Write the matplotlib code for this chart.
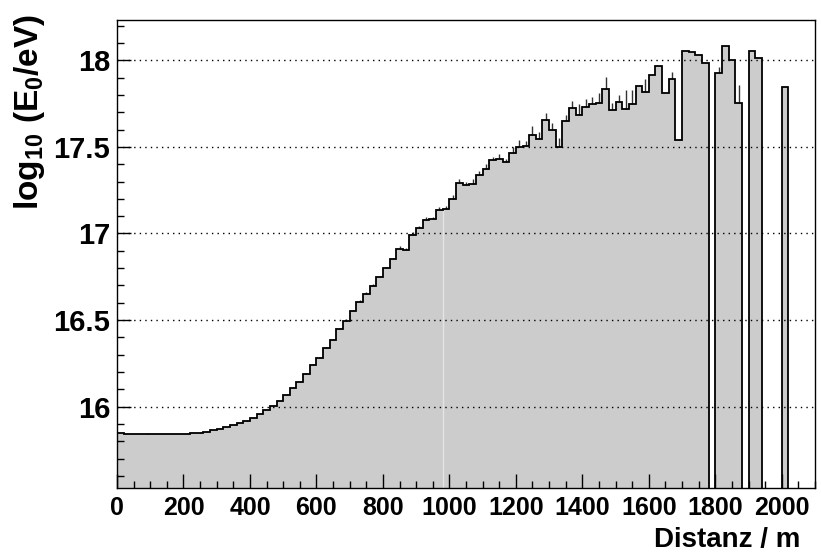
import numpy as np
import matplotlib
matplotlib.use("Agg")
import matplotlib.pyplot as plt
from matplotlib.ticker import MultipleLocator, FuncFormatter

# Histogram binning (distance to shower core, 20 m bins)
bin_width = 20
x_min, x_max = 0, 2100
y_min, y_max = 15.53, 18.233

# Mean log10(E0/eV) per distance bin (0 = empty bin)
energy = [
    15.846, 15.842, 15.840, 15.840, 15.844, 15.840, 15.840, 15.840, 15.841, 15.842,
    15.843, 15.846, 15.850, 15.856, 15.863, 15.871, 15.880, 15.891, 15.904, 15.918,
    15.934, 15.955, 15.978, 16.004, 16.031, 16.067, 16.110, 16.141, 16.190, 16.239,
    16.280, 16.339, 16.387, 16.449, 16.497, 16.551, 16.606, 16.653, 16.699, 16.747,
    16.798, 16.850, 16.912, 16.904, 16.994, 17.032, 17.077, 17.085, 17.135, 17.143,
    17.201, 17.293, 17.281, 17.285, 17.335, 17.374, 17.422, 17.430, 17.413, 17.462,
    17.501, 17.506, 17.569, 17.543, 17.655, 17.595, 17.501, 17.649, 17.726, 17.683,
    17.732, 17.748, 17.751, 17.837, 17.711, 17.760, 17.717, 17.746, 17.850, 17.817,
    17.917, 17.965, 17.813, 17.894, 17.538, 18.054, 18.048, 18.029, 17.987, 0.0,
    17.929, 18.083, 18.000, 17.751, 0.0, 18.056, 18.013, 0.0, 0.0, 0.0,
    17.844, 0.0, 0.0, 0.0, 0.0,
]

# Statistical uncertainty of each bin mean
energy_err = [
    0.002, 0.002, 0.002, 0.002, 0.002, 0.002, 0.002, 0.002, 0.002, 0.002,
    0.002, 0.002, 0.002, 0.003, 0.003, 0.003, 0.003, 0.003, 0.003, 0.003,
    0.004, 0.004, 0.004, 0.004, 0.004, 0.005, 0.005, 0.005, 0.005, 0.006,
    0.006, 0.006, 0.006, 0.007, 0.007, 0.007, 0.008, 0.008, 0.008, 0.009,
    0.009, 0.010, 0.015, 0.012, 0.015, 0.014, 0.019, 0.012, 0.019, 0.015,
    0.019, 0.023, 0.015, 0.031, 0.027, 0.025, 0.021, 0.031, 0.020, 0.037,
    0.039, 0.029, 0.050, 0.042, 0.039, 0.044, 0.052, 0.037, 0.039, 0.062,
    0.042, 0.039, 0.062, 0.064, 0.044, 0.039, 0.110, 0.085, 0.0, 0.073,
    0.0, 0.0, 0.0, 0.039, 0.0, 0.0, 0.0, 0.0, 0.0, 0.0,
    0.033, 0.0, 0.0, 0.104, 0.0, 0.0, 0.0, 0.0, 0.0, 0.0,
    0.0, 0.0, 0.0, 0.0, 0.0,
]

x_ticks_major = 200
x_ticks_minor = 50
y_ticks_major = 0.5
y_ticks_minor = 0.1

x_title = "Distanz / m"
y_title = r"$\mathrm{log_{10}\ (E_{0}/eV)}$"

plt.rcParams["font.family"] = ["Liberation Sans", "DejaVu Sans"]
plt.rcParams["font.weight"] = "bold"
plt.rcParams["mathtext.fontset"] = "custom"
plt.rcParams["mathtext.rm"] = "Liberation Sans:bold"
plt.rcParams["mathtext.it"] = "Liberation Sans:bold"
plt.rcParams["mathtext.bf"] = "Liberation Sans:bold"

W, H = 821, 558
fig = plt.figure(figsize=(W / 100, H / 100), dpi=100)
left, right, bottom, top = 117, 815, 488, 20
ax = fig.add_axes([left / W, 1 - bottom / H, (right - left) / W, (bottom - top) / H])

edges = np.arange(x_min, x_max + bin_width, bin_width)
values = np.array(energy)
errs = np.array(energy_err)
centers = 0.5 * (edges[:-1] + edges[1:])

# filled histogram with black outline
ax.stairs(values, edges, baseline=0, fill=True, color="#cccccc", lw=0, zorder=1)
ax.stairs(values, edges, baseline=0, fill=False, color="black", lw=1.3, zorder=2.2)

# faint seam inside the fill at 980 m
k = int(980 / bin_width)
ax.vlines(980, y_min, min(values[k - 1], values[k]), colors="#e4e4e4", lw=1.0, zorder=1.5)

# upper error bars
mask = (values > 0) & (errs > 0)
ax.vlines(centers[mask], values[mask], values[mask] + errs[mask],
          colors="#333333", lw=1.0, zorder=2.1)

ax.set_xlim(x_min, x_max)
ax.set_ylim(y_min, y_max)

ax.xaxis.set_major_locator(MultipleLocator(x_ticks_major))
ax.xaxis.set_minor_locator(MultipleLocator(x_ticks_minor))
ax.yaxis.set_major_locator(MultipleLocator(y_ticks_major))
ax.yaxis.set_minor_locator(MultipleLocator(y_ticks_minor))
ax.yaxis.set_major_formatter(FuncFormatter(lambda v, p: f"{v:g}"))
ax.xaxis.set_major_formatter(FuncFormatter(lambda v, p: f"{v:g}"))

ax.tick_params(axis="both", which="both", direction="in", top=False, right=False,
               width=1.0, color="black")
ax.tick_params(axis="x", which="major", length=10, pad=6, labelsize=18)
ax.tick_params(axis="x", which="minor", length=5)
ax.tick_params(axis="y", which="major", length=10, pad=5, labelsize=21)
ax.tick_params(axis="y", which="minor", length=5)

ax.set_axisbelow(False)
ax.yaxis.grid(True, which="major", linestyle=(0, (1, 3)), color="black", lw=1.0)
ax.xaxis.grid(False)

for s in ax.spines.values():
    s.set_linewidth(1.0)

fig.text(800 / W, 1 - 540 / H, x_title, ha="right", va="center",
         fontsize=20, fontweight="bold")
fig.text(47 / W, 1 - 14 / H, y_title, rotation=90, rotation_mode="anchor",
         ha="right", va="bottom", fontsize=24)

fig.savefig("out.png", dpi=100)
